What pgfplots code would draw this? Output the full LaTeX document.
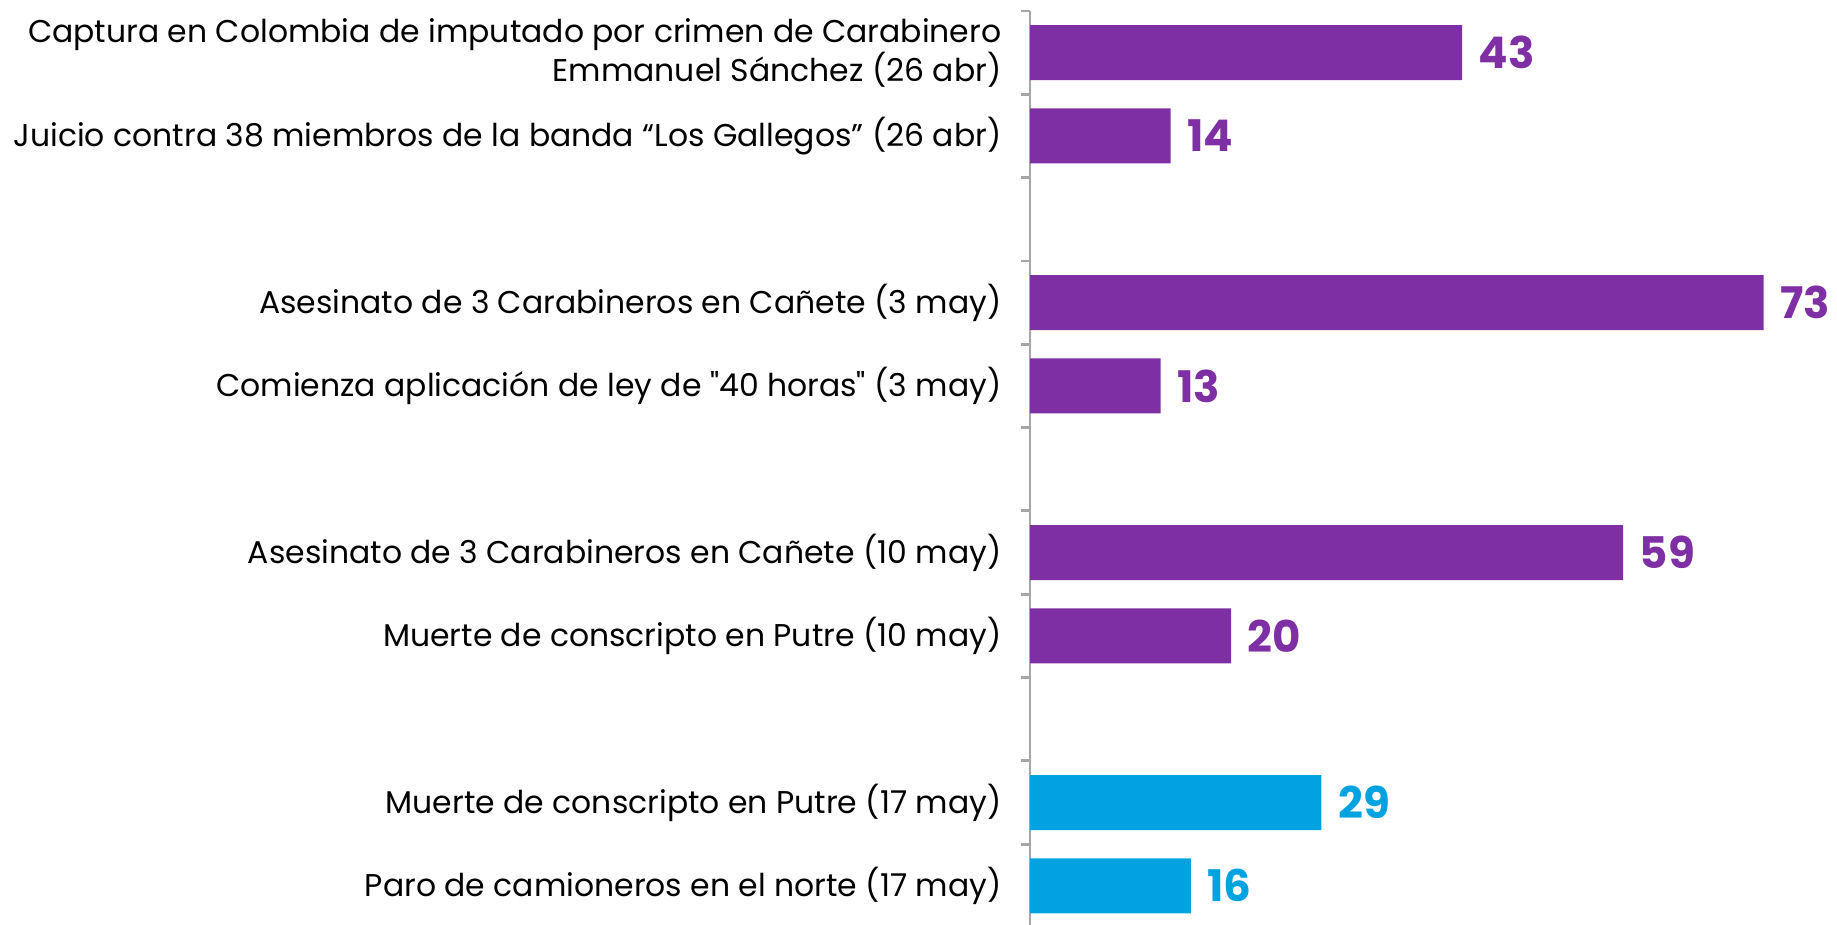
\documentclass[border=0pt]{standalone}
\usepackage{fontspec}
\setmainfont{Poppins}[Ligatures=TeXOff]
\usepackage{pgfplots}
\pgfplotsset{compat=1.18}
\definecolor{morado}{HTML}{7F2FA4}
\definecolor{celeste}{HTML}{00A3E0}
\definecolor{eje}{HTML}{A6A6A6}

\begin{document}
\begin{tikzpicture}
  \useasboundingbox (0,0) rectangle (18.37cm,9.25cm);
  \begin{axis}[
    at={(10.30cm,9.14cm)}, anchor=north west,
    scale only axis,
    width=7.84cm, height=9.14cm,
    xbar, bar width=0.55cm, bar shift=0pt,
    xmin=0, xmax=78,
    ymin=-0.5, ymax=10.47,
    y dir=reverse,
    axis x line=none,
    axis y line*=left,
    y axis line style={eje, line width=0.8pt},
    ytick={0,1,3,4,6,7,9,10},
    yticklabels={
      {Captura en Colombia de imputado por crimen de Carabinero\\Emmanuel Sánchez (26 abr)},
      {Juicio contra 38 miembros de la banda “Los Gallegos” (26 abr)},
      {Asesinato de 3 Carabineros en Cañete (3 may)},
      {Comienza aplicación de ley de "40 horas" (3 may)},
      {Asesinato de 3 Carabineros en Cañete (10 may)},
      {Muerte de conscripto en Putre (10 may)},
      {Muerte de conscripto en Putre (17 may)},
      {Paro de camioneros en el norte (17 may)}},
    major tick length=0pt,
    minor ytick={-0.5,0.5,1.5,2.5,3.5,4.5,5.5,6.5,7.5,8.5,9.5},
    minor tick length=0.09cm,
    tick align=outside,
    minor tick style={eje, line width=0.8pt},
    yticklabel style={align=right, inner sep=0pt, xshift=-0.28cm,
      font=\fontsize{8.95}{11}\selectfont, text=black},
    nodes near coords,
    nodes near coords style={anchor=west, inner sep=0pt, xshift=0.16cm,
      font=\fontsize{12.4}{13}\selectfont\bfseries,
      /pgf/number format/assume math mode=true},
    clip=false,
  ]
    \addplot[fill=morado, draw=none, nodes near coords style={text=morado}]
      coordinates {(43,0) (14,1) (73,3) (13,4) (59,6) (20,7)};
    \addplot[fill=celeste, draw=none, nodes near coords style={text=celeste}]
      coordinates {(29,9) (16,10)};
  \end{axis}
\end{tikzpicture}
\end{document}
